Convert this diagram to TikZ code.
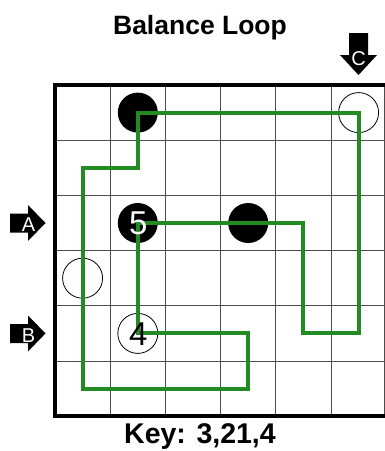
\documentclass[tikz,border=0pt]{standalone}
\usepackage{fontspec}
\setmainfont{Liberation Sans}
\begin{document}
\begin{tikzpicture}[x=1pt,y=-1pt,
  gridline/.style={draw=black!70,line width=0.9pt},
  frame/.style={draw=black,line width=3.6pt},
  blackdot/.style={circle,fill=black,minimum size=40pt,inner sep=0pt},
  opendot/.style={circle,draw=black,line width=0.8pt,minimum size=40pt,inner sep=0pt},
  digit/.style={font=\fontsize{33}{33}\selectfont,inner sep=0pt},
  loopline/.style={draw={rgb,255:red,34;green,139;blue,34},line width=4pt,line join=miter},
  blockarrow/.style={fill=black},
  arrowletter/.style={text=white,font=\fontsize{20}{20}\selectfont,inner sep=0pt}
]
\useasboundingbox (0,0) rectangle (385,451);
\fill[white] (0,0) rectangle (385,451);
% grid
\foreach \i in {1,...,5}{
  \draw[gridline] (55+55.2*\i,85) -- (55+55.2*\i,416.2);
  \draw[gridline] (55,85+55.2*\i) -- (388,85+55.2*\i);
}
\draw[gridline] (384.5,85) -- (384.5,416.2);
\draw[frame] (55,85) rectangle (388,416.2);
% circles
\node[blackdot] (b10) at (137.8,112.6) {};
\node[opendot]  (o50) at (358.6,112.6) {};
\node[blackdot] (b12) at (137.8,223) {};
\node[blackdot] (b32) at (248.2,223) {};
\node[opendot]  (o03) at (82.6,278.2) {};
\node[opendot]  (o14) at (137.8,333.4) {};
% loop
\draw[loopline] (137.8,223) -- (303.4,223) -- (303.4,333.4) -- (358.6,333.4)
  -- (358.6,112.6) -- (137.8,112.6) -- (137.8,167.8) -- (82.6,167.8)
  -- (82.6,388.6) -- (248.2,388.6) -- (248.2,333.4) -- (137.8,333.4) -- cycle;
% digits
\node[digit,text=white] (n5) at (138.3,223.5) {5};
\node[digit,text=black] (n4) at (138.3,334) {4};
% arrows
\fill[blockarrow] (10,213.5) -- (28,213.5) -- (28,205) -- (45.5,223) -- (28,241) -- (28,232.5) -- (10,232.5) -- cycle;
\node[arrowletter] (la) at (28.5,225) {A};
\fill[blockarrow] (10,324) -- (28,324) -- (28,315.5) -- (45.5,333.4) -- (28,351.5) -- (28,343) -- (10,343) -- cycle;
\node[arrowletter] (lb) at (28.5,335.5) {B};
\fill[blockarrow] (349,33) -- (368,33) -- (368,55) -- (377,55) -- (358.5,75) -- (340,55) -- (349,55) -- cycle;
\node[arrowletter] (lc) at (358.5,59) {C};
% texts
\node[font=\bfseries\fontsize{26.5}{26.5}\selectfont] (title) at (200,28) {Balance Loop};
\node[font=\bfseries\fontsize{28.5}{28.5}\selectfont] (key) at (200,437) {Key: 3,21,4};
\end{tikzpicture}
\end{document}
